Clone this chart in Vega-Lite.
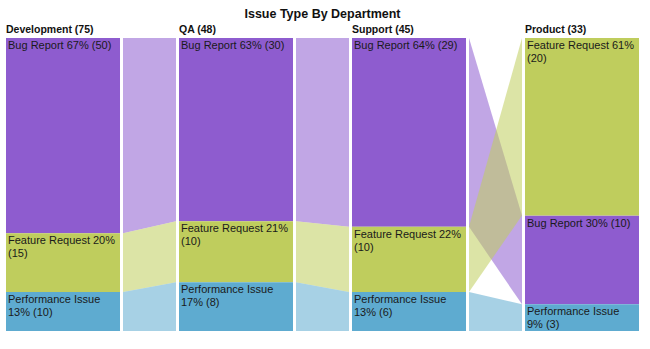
{
  "$schema": "https://vega.github.io/schema/vega-lite/v6.json",
  "background": "white",
  "padding": {"left": 6, "top": 8, "right": 6, "bottom": 6},
  "title": {"text": "Issue Type By Department", "anchor": "middle", "fontSize": 12.5, "font": "Liberation Sans", "fontWeight": "bold", "color": "#111111", "offset": 4},
  "datasets": {
    "issues": [
      {"dept": "Development", "category": "Bug Report", "count": 50},
      {"dept": "Development", "category": "Feature Request", "count": 15},
      {"dept": "Development", "category": "Performance Issue", "count": 10},
      {"dept": "QA", "category": "Bug Report", "count": 30},
      {"dept": "QA", "category": "Feature Request", "count": 10},
      {"dept": "QA", "category": "Performance Issue", "count": 8},
      {"dept": "Support", "category": "Bug Report", "count": 29},
      {"dept": "Support", "category": "Feature Request", "count": 10},
      {"dept": "Support", "category": "Performance Issue", "count": 6},
      {"dept": "Product", "category": "Bug Report", "count": 10},
      {"dept": "Product", "category": "Feature Request", "count": 20},
      {"dept": "Product", "category": "Performance Issue", "count": 3}
    ]
  },
  "data": {"name": "issues"},
  "spacing": 3,
  "bounds": "flush",
  "resolve": {"scale": {"x": "independent", "y": "independent"}},
  "hconcat": [
    {
      "width": 114, "height": 293,
      "title": {"text": "Development (75)", "anchor": "start", "fontSize": 10.5, "font": "Liberation Sans", "fontWeight": "bold", "color": "#111111", "offset": 3},
      "transform": [
        {"filter": {"field": "dept", "equal": "Development"}},
        {"stack": "count", "groupby": ["dept"], "sort": [{"field": "count", "order": "descending"}], "offset": "normalize", "as": ["y0", "y1"]},
        {"joinaggregate": [{"op": "sum", "field": "count", "as": "total"}], "groupby": ["dept"]},
        {"calculate": "format(datum.count / datum.total, '.0%')", "as": "pct"},
        {"calculate": "datum.category + ' ' + datum.pct + ' (' + datum.count + ')'", "as": "full"},
        {"calculate": "length(datum.full) <= 19 ? datum.full : (length(datum.category + ' ' + datum.pct) <= 19 ? [datum.category + ' ' + datum.pct, '(' + datum.count + ')'] : [datum.category, datum.pct + ' (' + datum.count + ')'])", "as": "label"}
      ],
      "layer": [
        {"mark": {"type": "bar"},
         "encoding": {
           "x": {"field": "dept", "type": "nominal", "scale": {"paddingInner": 0, "paddingOuter": 0}, "axis": null},
           "y": {"field": "y0", "type": "quantitative", "scale": {"domain": [0, 1], "reverse": true, "nice": false}, "axis": null},
           "y2": {"field": "y1"},
           "color": {"field": "category", "type": "nominal", "scale": {"domain": ["Bug Report", "Feature Request", "Performance Issue"], "range": ["#8e5ccf", "#bfcd5d", "#5eabd0"]}, "legend": null}
         }},
        {"mark": {"type": "text", "align": "left", "baseline": "top", "dx": 2, "dy": 2, "fontSize": 11, "font": "Liberation Sans", "color": "#1a1a1a", "lineHeight": 13},
         "encoding": {
           "x": {"field": "dept", "type": "nominal", "bandPosition": 0, "axis": null},
           "y": {"field": "y0", "type": "quantitative", "axis": null},
           "text": {"field": "label"}
         }}
      ]
    },
    {
      "width": 53, "height": 293,
      "transform": [
        {"filter": {"field": "dept", "oneOf": ["Development", "QA"]}},
        {"stack": "count", "groupby": ["dept"], "sort": [{"field": "count", "order": "descending"}], "offset": "normalize", "as": ["y0", "y1"]}
      ],
      "mark": {"type": "area", "opacity": 0.55},
      "encoding": {
        "x": {"field": "dept", "type": "nominal", "scale": {"type": "point", "domain": ["Development", "QA"], "padding": 0}, "axis": null},
        "y": {"field": "y0", "type": "quantitative", "scale": {"domain": [0, 1], "reverse": true, "nice": false}, "axis": null},
        "y2": {"field": "y1"},
        "color": {"field": "category", "type": "nominal", "legend": null}
      }
    },
    {
      "width": 114, "height": 293,
      "title": {"text": "QA (48)", "anchor": "start", "fontSize": 10.5, "font": "Liberation Sans", "fontWeight": "bold", "color": "#111111", "offset": 3},
      "transform": [
        {"filter": {"field": "dept", "equal": "QA"}},
        {"stack": "count", "groupby": ["dept"], "sort": [{"field": "count", "order": "descending"}], "offset": "normalize", "as": ["y0", "y1"]},
        {"joinaggregate": [{"op": "sum", "field": "count", "as": "total"}], "groupby": ["dept"]},
        {"calculate": "format(datum.count / datum.total, '.0%')", "as": "pct"},
        {"calculate": "datum.category + ' ' + datum.pct + ' (' + datum.count + ')'", "as": "full"},
        {"calculate": "length(datum.full) <= 19 ? datum.full : (length(datum.category + ' ' + datum.pct) <= 19 ? [datum.category + ' ' + datum.pct, '(' + datum.count + ')'] : [datum.category, datum.pct + ' (' + datum.count + ')'])", "as": "label"}
      ],
      "layer": [
        {"mark": {"type": "bar"},
         "encoding": {
           "x": {"field": "dept", "type": "nominal", "scale": {"paddingInner": 0, "paddingOuter": 0}, "axis": null},
           "y": {"field": "y0", "type": "quantitative", "scale": {"domain": [0, 1], "reverse": true, "nice": false}, "axis": null},
           "y2": {"field": "y1"},
           "color": {"field": "category", "type": "nominal", "legend": null}
         }},
        {"mark": {"type": "text", "align": "left", "baseline": "top", "dx": 2, "dy": 2, "fontSize": 11, "font": "Liberation Sans", "color": "#1a1a1a", "lineHeight": 13},
         "encoding": {
           "x": {"field": "dept", "type": "nominal", "bandPosition": 0, "axis": null},
           "y": {"field": "y0", "type": "quantitative", "axis": null},
           "text": {"field": "label"}
         }}
      ]
    },
    {
      "width": 53, "height": 293,
      "transform": [
        {"filter": {"field": "dept", "oneOf": ["QA", "Support"]}},
        {"stack": "count", "groupby": ["dept"], "sort": [{"field": "count", "order": "descending"}], "offset": "normalize", "as": ["y0", "y1"]}
      ],
      "mark": {"type": "area", "opacity": 0.55},
      "encoding": {
        "x": {"field": "dept", "type": "nominal", "scale": {"type": "point", "domain": ["QA", "Support"], "padding": 0}, "axis": null},
        "y": {"field": "y0", "type": "quantitative", "scale": {"domain": [0, 1], "reverse": true, "nice": false}, "axis": null},
        "y2": {"field": "y1"},
        "color": {"field": "category", "type": "nominal", "legend": null}
      }
    },
    {
      "width": 114, "height": 293,
      "title": {"text": "Support (45)", "anchor": "start", "fontSize": 10.5, "font": "Liberation Sans", "fontWeight": "bold", "color": "#111111", "offset": 3},
      "transform": [
        {"filter": {"field": "dept", "equal": "Support"}},
        {"stack": "count", "groupby": ["dept"], "sort": [{"field": "count", "order": "descending"}], "offset": "normalize", "as": ["y0", "y1"]},
        {"joinaggregate": [{"op": "sum", "field": "count", "as": "total"}], "groupby": ["dept"]},
        {"calculate": "format(datum.count / datum.total, '.0%')", "as": "pct"},
        {"calculate": "datum.category + ' ' + datum.pct + ' (' + datum.count + ')'", "as": "full"},
        {"calculate": "length(datum.full) <= 19 ? datum.full : (length(datum.category + ' ' + datum.pct) <= 19 ? [datum.category + ' ' + datum.pct, '(' + datum.count + ')'] : [datum.category, datum.pct + ' (' + datum.count + ')'])", "as": "label"}
      ],
      "layer": [
        {"mark": {"type": "bar"},
         "encoding": {
           "x": {"field": "dept", "type": "nominal", "scale": {"paddingInner": 0, "paddingOuter": 0}, "axis": null},
           "y": {"field": "y0", "type": "quantitative", "scale": {"domain": [0, 1], "reverse": true, "nice": false}, "axis": null},
           "y2": {"field": "y1"},
           "color": {"field": "category", "type": "nominal", "legend": null}
         }},
        {"mark": {"type": "text", "align": "left", "baseline": "top", "dx": 2, "dy": 2, "fontSize": 11, "font": "Liberation Sans", "color": "#1a1a1a", "lineHeight": 13},
         "encoding": {
           "x": {"field": "dept", "type": "nominal", "bandPosition": 0, "axis": null},
           "y": {"field": "y0", "type": "quantitative", "axis": null},
           "text": {"field": "label"}
         }}
      ]
    },
    {
      "width": 53, "height": 293,
      "transform": [
        {"filter": {"field": "dept", "oneOf": ["Support", "Product"]}},
        {"stack": "count", "groupby": ["dept"], "sort": [{"field": "count", "order": "descending"}], "offset": "normalize", "as": ["y0", "y1"]}
      ],
      "mark": {"type": "area", "opacity": 0.55},
      "encoding": {
        "x": {"field": "dept", "type": "nominal", "scale": {"type": "point", "domain": ["Support", "Product"], "padding": 0}, "axis": null},
        "y": {"field": "y0", "type": "quantitative", "scale": {"domain": [0, 1], "reverse": true, "nice": false}, "axis": null},
        "y2": {"field": "y1"},
        "color": {"field": "category", "type": "nominal", "legend": null}
      }
    },
    {
      "width": 114, "height": 293,
      "title": {"text": "Product (33)", "anchor": "start", "fontSize": 10.5, "font": "Liberation Sans", "fontWeight": "bold", "color": "#111111", "offset": 3},
      "transform": [
        {"filter": {"field": "dept", "equal": "Product"}},
        {"stack": "count", "groupby": ["dept"], "sort": [{"field": "count", "order": "descending"}], "offset": "normalize", "as": ["y0", "y1"]},
        {"joinaggregate": [{"op": "sum", "field": "count", "as": "total"}], "groupby": ["dept"]},
        {"calculate": "format(datum.count / datum.total, '.0%')", "as": "pct"},
        {"calculate": "datum.category + ' ' + datum.pct + ' (' + datum.count + ')'", "as": "full"},
        {"calculate": "length(datum.full) <= 19 ? datum.full : (length(datum.category + ' ' + datum.pct) <= 19 ? [datum.category + ' ' + datum.pct, '(' + datum.count + ')'] : [datum.category, datum.pct + ' (' + datum.count + ')'])", "as": "label"}
      ],
      "layer": [
        {"mark": {"type": "bar"},
         "encoding": {
           "x": {"field": "dept", "type": "nominal", "scale": {"paddingInner": 0, "paddingOuter": 0}, "axis": null},
           "y": {"field": "y0", "type": "quantitative", "scale": {"domain": [0, 1], "reverse": true, "nice": false}, "axis": null},
           "y2": {"field": "y1"},
           "color": {"field": "category", "type": "nominal", "legend": null}
         }},
        {"mark": {"type": "text", "align": "left", "baseline": "top", "dx": 2, "dy": 2, "fontSize": 11, "font": "Liberation Sans", "color": "#1a1a1a", "lineHeight": 13},
         "encoding": {
           "x": {"field": "dept", "type": "nominal", "bandPosition": 0, "axis": null},
           "y": {"field": "y0", "type": "quantitative", "axis": null},
           "text": {"field": "label"}
         }}
      ]
    }
  ],
  "config": {"view": {"stroke": null}}
}
